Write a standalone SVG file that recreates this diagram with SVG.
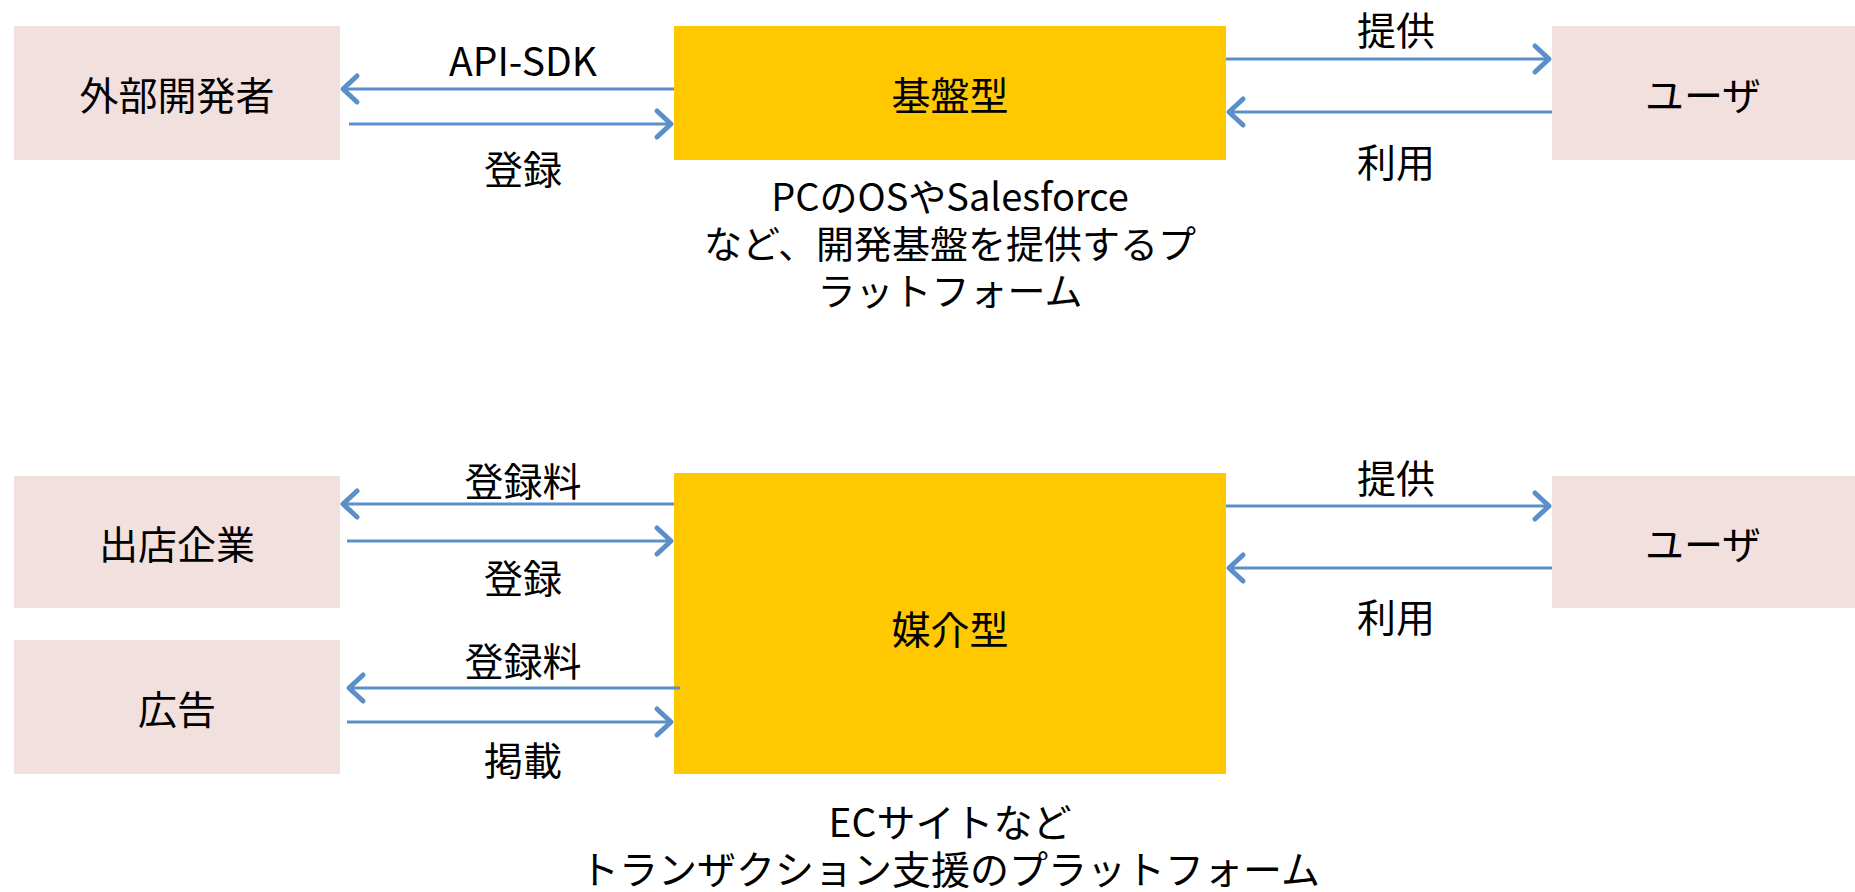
<svg xmlns="http://www.w3.org/2000/svg" width="1855" height="892" viewBox="0 0 1855 892">
<style>
.actor{fill:#F2E0DF}
.core{fill:#FFC800}
text{font-family:"Noto Sans CJK JP","Noto Sans",sans-serif;font-size:39px;fill:#000;text-anchor:middle;dominant-baseline:central}
.desc{font-size:38px}
.desc2{font-size:39px}
.conn{stroke:#5B8FC9;stroke-width:3;fill:none;marker-end:url(#ah)}
</style>
<defs>
<marker id="ah" markerUnits="userSpaceOnUse" markerWidth="40" markerHeight="40" refX="20" refY="20" orient="auto" overflow="visible">
<path d="M6,7 L20,20 L6,33" fill="none" stroke="#5B8FC9" stroke-width="5" stroke-linecap="round" stroke-linejoin="round"/>
</marker>
</defs>
<rect width="1855" height="892" fill="#fff"/>
<g id="n-gaibu"><rect class="actor" x="14" y="26" width="326" height="134"/><text x="177" y="93">外部開発者</text></g>
<g id="n-kiban"><rect class="core" x="674" y="26" width="552" height="134"/><text x="950" y="93">基盤型</text></g>
<g id="n-user1"><rect class="actor" x="1552" y="26" width="303" height="134"/><text x="1703" y="93">ユーザ</text></g>
<g id="n-kiban-desc"><text class="desc" x="950" y="194">PCのOSやSalesforce</text><text class="desc" x="950" y="241">など、開発基盤を提供するプ</text><text class="desc" x="950" y="288">ラットフォーム</text></g>
<g id="n-shutten"><rect class="actor" x="14" y="476" width="326" height="132"/><text x="177" y="542">出店企業</text></g>
<g id="n-koukoku"><rect class="actor" x="14" y="640" width="326" height="134"/><text x="177" y="707">広告</text></g>
<g id="n-baikai"><rect class="core" x="674" y="473" width="552" height="301"/><text x="950" y="627">媒介型</text></g>
<g id="n-user2"><rect class="actor" x="1552" y="476" width="303" height="132"/><text x="1703" y="542">ユーザ</text></g>
<g id="n-baikai-desc"><text class="desc2" x="950" y="820">ECサイトなど</text><text class="desc2" x="950" y="867">トランザクション支援のプラットフォーム</text></g>
<g id="connectors">
<line class="conn" x1="674" y1="89" x2="343" y2="89"/>
<line class="conn" x1="349" y1="124" x2="671" y2="124"/>
<line class="conn" x1="1226" y1="59" x2="1549" y2="59"/>
<line class="conn" x1="1552" y1="112" x2="1229" y2="112"/>
<line class="conn" x1="674" y1="504" x2="343" y2="504"/>
<line class="conn" x1="347" y1="541" x2="671" y2="541"/>
<line class="conn" x1="680" y1="688" x2="349" y2="688"/>
<line class="conn" x1="347" y1="722" x2="671" y2="722"/>
<line class="conn" x1="1226" y1="506" x2="1549" y2="506"/>
<line class="conn" x1="1552" y1="568" x2="1229" y2="568"/>
<text x="523" y="59">API-SDK</text>
<text x="523" y="167">登録</text>
<text x="1396" y="28">提供</text>
<text x="1396" y="160">利用</text>
<text x="523" y="479">登録料</text>
<text x="523" y="576">登録</text>
<text x="523" y="659">登録料</text>
<text x="523" y="758">掲載</text>
<text x="1396" y="476">提供</text>
<text x="1396" y="615">利用</text>
</g>
</svg>
